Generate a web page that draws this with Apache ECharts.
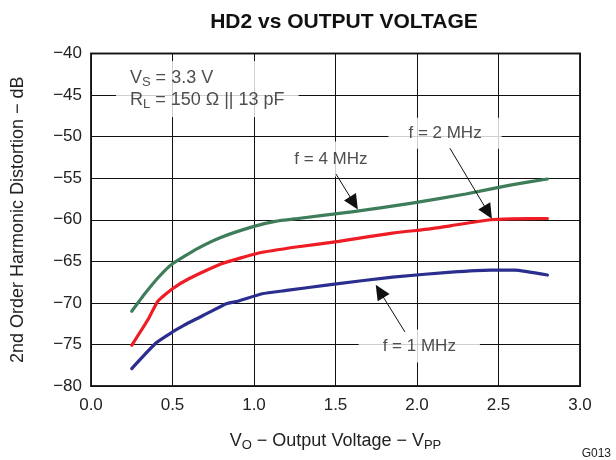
<!DOCTYPE html>
<html>
<head>
<meta charset="utf-8">
<script src="https://cdn.jsdelivr.net/npm/echarts@6/dist/echarts.min.js"></script>
<style>html,body{margin:0;padding:0;background:#fff}#c{width:616px;height:460px}</style>
</head>
<body>
<div id="c"></div>
<script>
// ---- data ----
const titleText = 'HD2 vs OUTPUT VOLTAGE';
const xTicks = [0, 0.5, 1.0, 1.5, 2.0, 2.5, 3.0];
const yTicks = [-80, -75, -70, -65, -60, -55, -50, -45, -40];

const vo4MHz  = [0.25, 0.33, 0.42, 0.5, 0.65, 0.8, 1.0, 1.13, 1.27, 1.6, 1.97, 2.3, 2.58, 2.8];
const hd4MHz  = [-71.0, -68.9, -66.8, -65.3, -63.5, -62.1, -60.8, -60.2, -59.85, -59.05, -58.0, -56.9, -55.8, -55.1];

const vo2MHz  = [0.25, 0.35, 0.41, 0.5, 0.6, 0.8, 1.03, 1.27, 1.52, 1.85, 2.08, 2.21, 2.45, 2.58, 2.8];
const hd2MHz  = [-75.1, -72.0, -69.8, -68.3, -67.1, -65.3, -64.0, -63.25, -62.6, -61.6, -61.1, -60.7, -60.0, -59.9, -59.85];

const vo1MHz  = [0.25, 0.4, 0.5, 0.57, 0.71, 0.83, 0.9, 1.05, 1.2, 1.47, 1.85, 2.21, 2.45, 2.6, 2.8];
const hd1MHz  = [-77.9, -74.8, -73.5, -72.7, -71.3, -70.1, -69.8, -68.9, -68.5, -67.8, -66.9, -66.3, -66.05, -66.05, -66.65];

// annotation anchor points [x, y] in data units
const labelPos4 = [1.472, -52.7];
const labelPos2 = [2.172, -49.6];
const labelPos1 = [2.014, -75.2];
const condPos   = [0.153, -44.27];
const arrow4 = [[1.503, -54.5], [1.613, -58.0]];
const arrow2 = [[2.202, -51.4], [2.436, -59.1]];
const arrow1 = [[1.926, -73.5], [1.771, -68.6]];

const FONT = '"Liberation Sans", Arial, Helvetica, sans-serif';
const zip = (xs, ys) => xs.map((x, i) => [x, ys[i]]);
const minus = v => (v < 0 ? '\u2212' : '') + Math.abs(v);

const chart = echarts.init(document.getElementById('c'), null, {renderer: 'canvas'});

function lineSeries(name, xs, ys, color) {
  return {
    name, type: 'line', data: zip(xs, ys), showSymbol: false, symbol: 'none',
    lineStyle: {color, width: 3.2, join: 'round', cap: 'round'}, z: 3,
    smooth: 0.15, animation: false, silent: true
  };
}

const boxLabel = (txt, pad) => ({
  show: true, position: 'inside', formatter: txt, color: '#222',
  fontFamily: FONT, fontSize: 17, backgroundColor: '#fff', padding: pad
});

const arrowLine = (a) => [{coord: a[0]}, {coord: a[1]}];

chart.setOption({
  backgroundColor: '#fff',
  animation: false,
  title: {
    text: titleText, left: 339, top: 7, textAlign: 'center',
    textStyle: {fontFamily: FONT, fontSize: 21, fontWeight: 'bold', color: '#111'}
  },
  grid: {left: 91, right: 36, top: 53.5, bottom: 74, show: true, borderColor: '#2a2a2a', borderWidth: 2, backgroundColor: 'transparent'},
  xAxis: {
    type: 'value', min: 0, max: 3, interval: 0.5,
    axisLine: {show: false}, axisTick: {show: false},
    splitLine: {show: true, lineStyle: {color: '#111', width: 1}},
    axisLabel: {formatter: v => v.toFixed(1), fontFamily: FONT, fontSize: 17, color: '#222', margin: 11},
    name: '{t|V}{s|O}{t| \u2212 Output Voltage \u2212 V}{s|PP}',
    nameLocation: 'middle', nameGap: 44,
    nameTextStyle: {
      rich: {
        t: {fontFamily: FONT, fontSize: 18, color: '#222'},
        s: {fontFamily: FONT, fontSize: 13, color: '#222', padding: [9, 0, 0, 0]}
      }
    }
  },
  yAxis: {
    type: 'value', min: -80, max: -40, interval: 5,
    axisLine: {show: false}, axisTick: {show: false},
    splitLine: {show: true, lineStyle: {color: '#111', width: 1}},
    axisLabel: {formatter: minus, fontFamily: FONT, fontSize: 17, color: '#222', margin: 9},
    name: '2nd Order Harmonic Distortion \u2212 dB',
    nameLocation: 'middle', nameGap: 64,
    nameTextStyle: {fontFamily: FONT, fontSize: 18, color: '#222'}
  },
  series: [
    lineSeries('f = 4 MHz', vo4MHz, hd4MHz, '#3e7d5a'),
    lineSeries('f = 2 MHz', vo2MHz, hd2MHz, '#ee1c24'),
    lineSeries('f = 1 MHz', vo1MHz, hd1MHz, '#2b2e8e'),
    {
      name: 'annotations', type: 'scatter', symbolSize: 0, silent: true, z: 4,
      data: [
        {value: labelPos4, label: boxLabel('f = 4 MHz', [9, 6, 9, 6])},
        {value: labelPos2, label: boxLabel('f = 2 MHz', [7, 20, 7, 20])},
        {value: labelPos1, label: boxLabel('f = 1 MHz', [8, 24, 8, 24])},
        {value: condPos, label: {
          show: true, position: 'inside', align: 'left', verticalAlign: 'middle',
          formatter: '{t|V}{s|S}{t| = 3.3 V}\n{t|R}{s|L}{t| = 150 \u03A9 || 13 pF}',
          backgroundColor: '#fff', padding: [6, 14, 6, 14],
          rich: {
            t: {fontFamily: FONT, fontSize: 18, color: '#222', lineHeight: 22},
            s: {fontFamily: FONT, fontSize: 13, color: '#222', lineHeight: 22, padding: [9, 0, 0, 0]}
          }
        }}
      ],
      markLine: {
        silent: true, animation: false,
        symbol: ['none', 'triangle'], symbolSize: [14, 15],
        lineStyle: {color: '#111', width: 1, type: 'solid'},
        itemStyle: {color: '#111'},
        label: {show: false},
        emphasis: {disabled: true},
        data: [arrowLine(arrow4), arrowLine(arrow2), arrowLine(arrow1)]
      }
    }
  ],
  graphic: [{
    type: 'text', right: 5, bottom: 0,
    style: {text: 'G013', fontFamily: FONT, fontSize: 12, fill: '#222'}
  }]
});
</script>
</body>
</html>
